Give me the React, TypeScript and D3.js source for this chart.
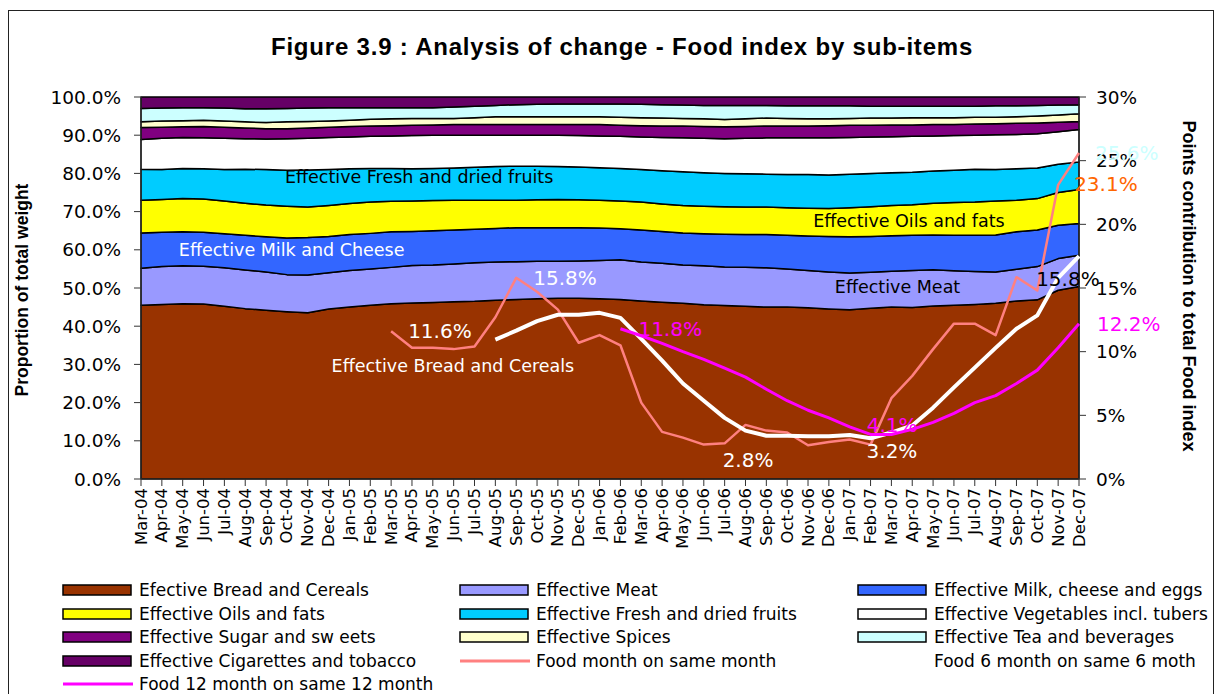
import React from "react";
import * as d3 from "d3";

const months = [
  "Mar-04", "Apr-04", "May-04", "Jun-04", "Jul-04", "Aug-04", "Sep-04", "Oct-04", "Nov-04", "Dec-04",
  "Jan-05", "Feb-05", "Mar-05", "Apr-05", "May-05", "Jun-05", "Jul-05", "Aug-05", "Sep-05", "Oct-05", "Nov-05", "Dec-05",
  "Jan-06", "Feb-06", "Mar-06", "Apr-06", "May-06", "Jun-06", "Jul-06", "Aug-06", "Sep-06", "Oct-06", "Nov-06", "Dec-06",
  "Jan-07", "Feb-07", "Mar-07", "Apr-07", "May-07", "Jun-07", "Jul-07", "Aug-07", "Sep-07", "Oct-07", "Nov-07", "Dec-07",
];

// weights of each sub-item (share of food basket, %)
const breadCereals = [45.5, 45.7, 45.9, 45.8, 45.2, 44.6, 44.2, 43.8, 43.5, 44.5, 45.0, 45.5, 45.9, 46.1, 46.2, 46.4, 46.5, 46.8, 47.0, 47.2, 47.3, 47.3, 47.2, 47.0, 46.6, 46.3, 46.0, 45.6, 45.4, 45.2, 45.0, 45.0, 44.8, 44.5, 44.3, 44.7, 45.0, 44.9, 45.3, 45.5, 45.7, 46.0, 46.6, 46.9, 49.4, 50.4];
const meat = [9.7, 9.9, 9.9, 9.9, 10.1, 10.1, 10.0, 9.7, 9.9, 9.5, 9.6, 9.5, 9.5, 9.8, 9.8, 9.9, 10.1, 10.0, 9.9, 9.8, 9.7, 9.8, 10.0, 10.4, 10.2, 10.2, 10.0, 10.2, 10.1, 10.2, 10.3, 10.0, 9.8, 9.7, 9.6, 9.4, 9.4, 9.7, 9.5, 9.0, 8.6, 8.2, 8.3, 8.7, 8.3, 8.2];
const milkCheese = [9.2, 9.0, 8.9, 8.9, 8.9, 9.1, 9.2, 9.6, 9.8, 9.5, 9.4, 9.3, 9.3, 8.9, 9.0, 8.9, 8.8, 8.8, 8.9, 8.8, 8.8, 8.7, 8.5, 8.1, 8.4, 8.3, 8.4, 8.4, 8.6, 8.6, 8.7, 8.8, 9.0, 9.3, 9.5, 9.4, 9.3, 9.2, 9.1, 9.3, 9.5, 9.7, 9.8, 9.6, 8.7, 8.3];
const oilsFats = [8.6, 8.6, 8.7, 8.7, 8.6, 8.4, 8.3, 8.3, 8.0, 8.1, 8.1, 8.2, 8.0, 8.0, 7.9, 7.8, 7.6, 7.4, 7.2, 7.3, 7.4, 7.3, 7.3, 7.3, 7.3, 7.2, 7.2, 7.2, 7.2, 7.2, 7.2, 7.2, 7.3, 7.3, 7.6, 7.8, 7.9, 8.0, 8.3, 8.6, 8.7, 8.9, 8.3, 8.2, 8.6, 8.9];
const fruits = [8.1, 7.8, 7.9, 7.9, 8.2, 8.9, 9.3, 9.4, 9.7, 9.4, 9.1, 8.8, 8.6, 8.4, 8.4, 8.4, 8.6, 8.8, 8.9, 8.8, 8.6, 8.6, 8.5, 8.5, 8.5, 8.7, 8.8, 8.8, 8.7, 8.7, 8.6, 8.7, 8.8, 8.8, 8.8, 8.7, 8.6, 8.5, 8.4, 8.4, 8.6, 8.2, 8.2, 8.0, 7.4, 7.2];
const vegetables = [7.8, 8.2, 8.1, 8.1, 8.2, 8.0, 8.0, 8.3, 8.3, 8.4, 8.3, 8.4, 8.5, 8.7, 8.7, 8.6, 8.4, 8.2, 8.1, 8.1, 8.2, 8.2, 8.3, 8.4, 8.5, 8.7, 8.9, 9.0, 9.1, 9.3, 9.5, 9.6, 9.6, 9.7, 9.6, 9.5, 9.4, 9.4, 9.2, 9.1, 8.9, 9.1, 9.0, 9.0, 8.5, 8.5];
const sugarSweets = [3.1, 2.9, 2.8, 3.0, 2.9, 2.8, 2.7, 2.6, 2.7, 2.7, 2.8, 2.7, 2.7, 2.7, 2.7, 2.8, 2.8, 2.8, 2.8, 2.8, 2.8, 2.9, 3.0, 2.9, 3.0, 3.0, 3.1, 3.1, 3.1, 3.1, 3.1, 3.1, 3.1, 3.2, 3.2, 3.1, 3.1, 3.0, 3.0, 2.9, 2.9, 2.9, 2.9, 2.8, 2.5, 2.1];
const spices = [1.5, 1.6, 1.6, 1.6, 1.6, 1.6, 1.6, 1.8, 1.7, 1.6, 1.6, 1.8, 1.8, 1.8, 1.7, 1.6, 1.8, 2.0, 2.0, 2.0, 2.0, 2.0, 2.0, 2.1, 2.1, 2.1, 2.0, 2.0, 1.9, 2.0, 2.1, 2.0, 1.9, 1.8, 1.8, 1.9, 1.8, 1.9, 1.8, 1.8, 1.8, 1.7, 1.7, 1.8, 1.9, 2.0];
const teaBeverages = [3.5, 3.4, 3.4, 3.3, 3.4, 3.4, 3.6, 3.5, 3.5, 3.5, 3.3, 3.0, 2.9, 2.8, 2.8, 3.0, 3.0, 3.0, 3.2, 3.3, 3.4, 3.4, 3.4, 3.5, 3.5, 3.5, 3.5, 3.5, 3.7, 3.5, 3.3, 3.3, 3.4, 3.4, 3.3, 3.1, 3.1, 3.0, 3.0, 3.0, 2.9, 3.0, 2.9, 2.8, 2.6, 2.4];
const cigarettes = [3.0, 2.9, 2.8, 2.8, 2.9, 3.1, 3.1, 3.0, 2.9, 2.8, 2.8, 2.8, 2.8, 2.8, 2.8, 2.6, 2.4, 2.2, 2.0, 1.9, 1.8, 1.8, 1.8, 1.8, 1.9, 2.0, 2.1, 2.2, 2.2, 2.2, 2.2, 2.3, 2.3, 2.3, 2.3, 2.4, 2.4, 2.4, 2.4, 2.4, 2.4, 2.3, 2.3, 2.2, 2.1, 2.0];

// points contribution to total food index (%), each line starts at a later month
const foodMonthStart = "Mar-05";
const foodMonth = [11.6, 10.3, 10.3, 10.2, 10.4, 12.7, 15.8, 14.7, 13.3, 10.7, 11.3, 10.5, 6.0, 3.7, 3.25, 2.7, 2.8, 4.25, 3.8, 3.65, 2.65, 2.9, 3.1, 2.7, 6.35, 8.1, 10.2, 12.2, 12.2, 11.3, 15.85, 14.8, 23.1, 25.6];
const food6Start = "Aug-05";
const food6Month = [10.95, 11.65, 12.4, 12.9, 12.9, 13.05, 12.65, 11.0, 9.3, 7.5, 6.15, 4.8, 3.8, 3.4, 3.4, 3.35, 3.35, 3.45, 3.2, 3.65, 4.2, 5.6, 7.2, 8.75, 10.3, 11.8, 12.85, 15.8, 17.5];
const food12Start = "Feb-06";
const food12Month = [11.8, 11.25, 10.65, 10.0, 9.4, 8.7, 8.0, 7.05, 6.15, 5.4, 4.8, 4.1, 3.5, 3.5, 3.9, 4.45, 5.15, 6.0, 6.55, 7.5, 8.55, 10.3, 12.2];

const leftTicks = [0, 0.1, 0.2, 0.3, 0.4, 0.5, 0.6, 0.7, 0.8, 0.9, 1.0];
const rightTicks = [0, 5, 10, 15, 20, 25, 30];

const layers = [
  { key: "bread", legend: "Efective Bread and Cereals", color: "#993300", values: breadCereals },
  { key: "meat", legend: "Effective Meat", color: "#9999FF", values: meat },
  { key: "milk", legend: "Effective Milk, cheese and eggs", color: "#3366FF", values: milkCheese },
  { key: "oils", legend: "Effective Oils and fats", color: "#FFFF00", values: oilsFats },
  { key: "fruits", legend: "Effective Fresh and dried fruits", color: "#00CCFF", values: fruits },
  { key: "veg", legend: "Effective Vegetables incl. tubers", color: "#FFFFFF", values: vegetables },
  { key: "sugar", legend: "Effective Sugar and sw eets", color: "#800080", values: sugarSweets },
  { key: "spices", legend: "Effective Spices", color: "#FFFFCC", values: spices },
  { key: "tea", legend: "Effective Tea and beverages", color: "#CCFFFF", values: teaBeverages },
  { key: "cig", legend: "Effective Cigarettes and tobacco", color: "#660066", values: cigarettes },
];

const lines = [
  { key: "m1", legend: "Food month on same month", color: "#FF8080", width: 2.5, start: foodMonthStart, values: foodMonth },
  { key: "m6", legend: "Food 6 month on same 6 moth", color: "#FFFFFF", width: 4, start: food6Start, values: food6Month },
  { key: "m12", legend: "Food 12 month on same 12 month", color: "#FF00FF", width: 3, start: food12Start, values: food12Month },
];

// in-chart texts
const areaLabels = [
  { text: "Effective Fresh and dried fruits", month: "Oct-04", dx: -2, pct: 0.79, fill: "#000" },
  { text: "Effective Milk and Cheese", month: "Apr-04", dx: 17, pct: 0.599, fill: "#fff" },
  { text: "Effective Oils and fats", month: "Oct-06", dx: 26, pct: 0.676, fill: "#000" },
  { text: "Effective Meat", month: "Dec-06", dx: 6, pct: 0.503, fill: "#000" },
  { text: "Effective Bread and Cereals", month: "Dec-04", dx: 3, pct: 0.296, fill: "#fff" },
];
const pointLabels = [
  { line: "m1", month: "Mar-05", dx: 17, dy: 0, fill: "#FFFFFF" },
  { line: "m1", month: "Sep-05", dx: 17, dy: 0, fill: "#FFFFFF" },
  { line: "m12", month: "Feb-06", dx: 18, dy: 0, fill: "#FF00FF" },
  { line: "m1", month: "Jul-06", dx: -2, dy: 17, fill: "#FFFFFF" },
  { line: "m12", month: "Jan-07", dx: 17, dy: -2, fill: "#FF00FF" },
  { line: "m6", month: "Feb-07", dx: -4, dy: 13, fill: "#FFFFFF" },
  { line: "m6", month: "Nov-07", dx: -22, dy: 1, fill: "#000000" },
  { line: "m1", month: "Nov-07", dx: 16, dy: -1, fill: "#FF6600" },
  { line: "m1", month: "Dec-07", dx: 16, dy: 0, fill: "#CCFFFF" },
  { line: "m12", month: "Dec-07", dx: 18, dy: 0, fill: "#FF00FF" },
];

const FONT = "'DejaVu Sans', sans-serif";
const BOLD_FONT = "'Liberation Sans', Arial, sans-serif";

export default function App() {
  const W = 1224;
  const H = 694;
  const m = { left: 141, right: 1079, top: 97, bottom: 479 };

  const x = d3.scalePoint<string>().domain(months).range([m.left, m.right]);
  const yL = d3.scaleLinear().domain([0, 1]).range([m.bottom, m.top]);
  const yR = d3.scaleLinear().domain([0, 30]).range([m.bottom, m.top]);

  const rows = months.map((mo, i) => {
    const r: any = { month: mo };
    layers.forEach(l => (r[l.key] = l.values[i]));
    return r;
  });
  const stacked = d3.stack<any>()
    .keys(layers.map(l => l.key))
    .offset(d3.stackOffsetExpand)(rows);

  const area = d3.area<any>()
    .x(d => x(d.data.month) as number)
    .y0(d => yL(d[0]))
    .y1(d => yL(d[1]));

  const lineGen = d3.line<{ month: string; v: number }>()
    .x(d => x(d.month) as number)
    .y(d => yR(d.v));

  const linePts = lines.map(l => {
    const s = months.indexOf(l.start);
    return { ...l, pts: l.values.map((v, i) => ({ month: months[s + i], v })) };
  });

  const fmtL = d3.format(".1%");

  const legendItems = [...layers.map(l => ({ ...l, kind: "box" })), ...lines.map(l => ({ ...l, kind: "line" }))];
  const colX = [63, 460, 858];
  const rowY = [590, 614, 637, 661, 684];

  return (
    <svg width={W} height={H} style={{ position: "absolute", left: 0, top: 0, background: "#fff" }} fontFamily={FONT}>
      <rect x={8.5} y={10.5} width={1205} height={700} fill="#fff" stroke="#222" strokeWidth={1} />

      <text x={622} y={55} textAnchor="middle" fontSize={24} letterSpacing={0.8} fontWeight="bold" fontFamily={BOLD_FONT}>
        Figure 3.9 : Analysis of change - Food index by sub-items
      </text>

      {stacked.map((s, i) => (
        <path key={s.key} d={area(s) || ""} fill={layers[i].color} stroke="#000" strokeWidth={1.5} strokeLinejoin="round" />
      ))}

      {/* axes */}
      <line x1={m.left} x2={m.left} y1={m.top} y2={m.bottom} stroke="#333" />
      <line x1={m.right} x2={m.right} y1={m.top} y2={m.bottom} stroke="#333" />
      <line x1={m.left} x2={m.right} y1={m.bottom} y2={m.bottom} stroke="#333" />
      {leftTicks.map(t => (
        <g key={"l" + t}>
          <line x1={m.left - 7} x2={m.left} y1={yL(t)} y2={yL(t)} stroke="#333" />
          <text x={m.left - 20} y={yL(t)} textAnchor="end" dominantBaseline="central" fontSize={18.5}>{fmtL(t)}</text>
        </g>
      ))}
      {rightTicks.map(t => (
        <g key={"r" + t}>
          <line x1={m.right} x2={m.right + 7} y1={yR(t)} y2={yR(t)} stroke="#333" />
          <text x={m.right + 17} y={yR(t)} dominantBaseline="central" fontSize={18.5}>{t + "%"}</text>
        </g>
      ))}
      {months.map(mo => (
        <g key={mo}>
          <line x1={x(mo)} x2={x(mo)} y1={m.bottom} y2={m.bottom + 7} stroke="#333" />
          <text transform={`translate(${x(mo)},${m.bottom + 9}) rotate(-90)`} textAnchor="end" dominantBaseline="central" fontSize={16.5}>{mo}</text>
        </g>
      ))}

      <text transform={`translate(28,290) rotate(-90)`} textAnchor="middle" fontSize={17.5} fontWeight="bold" fontFamily={BOLD_FONT}>
        Proportion of total weight
      </text>
      <text transform={`translate(1183,286) rotate(90)`} textAnchor="middle" fontSize={18} fontWeight="bold" fontFamily={BOLD_FONT}>
        Points contribution to total Food index
      </text>

      {areaLabels.map(a => (
        <text key={a.text} x={(x(a.month) as number) + a.dx} y={yL(a.pct)} dominantBaseline="central" fontSize={17.5} fill={a.fill}>{a.text}</text>
      ))}

      {linePts.map(l => (
        <path key={l.key} d={lineGen(l.pts) || ""} fill="none" stroke={l.color} strokeWidth={l.width} strokeLinejoin="round" />
      ))}

      {pointLabels.map((p, i) => {
        const l = linePts.find(q => q.key === p.line)!;
        const pt = l.pts.find(q => q.month === p.month)!;
        return (
          <text key={i} x={(x(pt.month) as number) + p.dx} y={yR(pt.v) + p.dy} dominantBaseline="central" fontSize={20} fill={p.fill}>
            {pt.v.toFixed(1) + "%"}
          </text>
        );
      })}

      {/* legend */}
      {legendItems.map((d: any, i) => {
        const cx = colX[i % 3];
        const cy = rowY[Math.floor(i / 3)];
        return (
          <g key={d.key}>
            {d.kind === "box" ? (
              <rect x={cx} y={cy - 5} width={68} height={10} fill={d.color} stroke="#000" strokeWidth={1.5} />
            ) : (
              <line x1={cx} x2={cx + 70} y1={cy} y2={cy} stroke={d.color} strokeWidth={3} />
            )}
            <text x={cx + 76} y={cy} dominantBaseline="central" fontSize={17}>{d.legend}</text>
          </g>
        );
      })}
    </svg>
  );
}
